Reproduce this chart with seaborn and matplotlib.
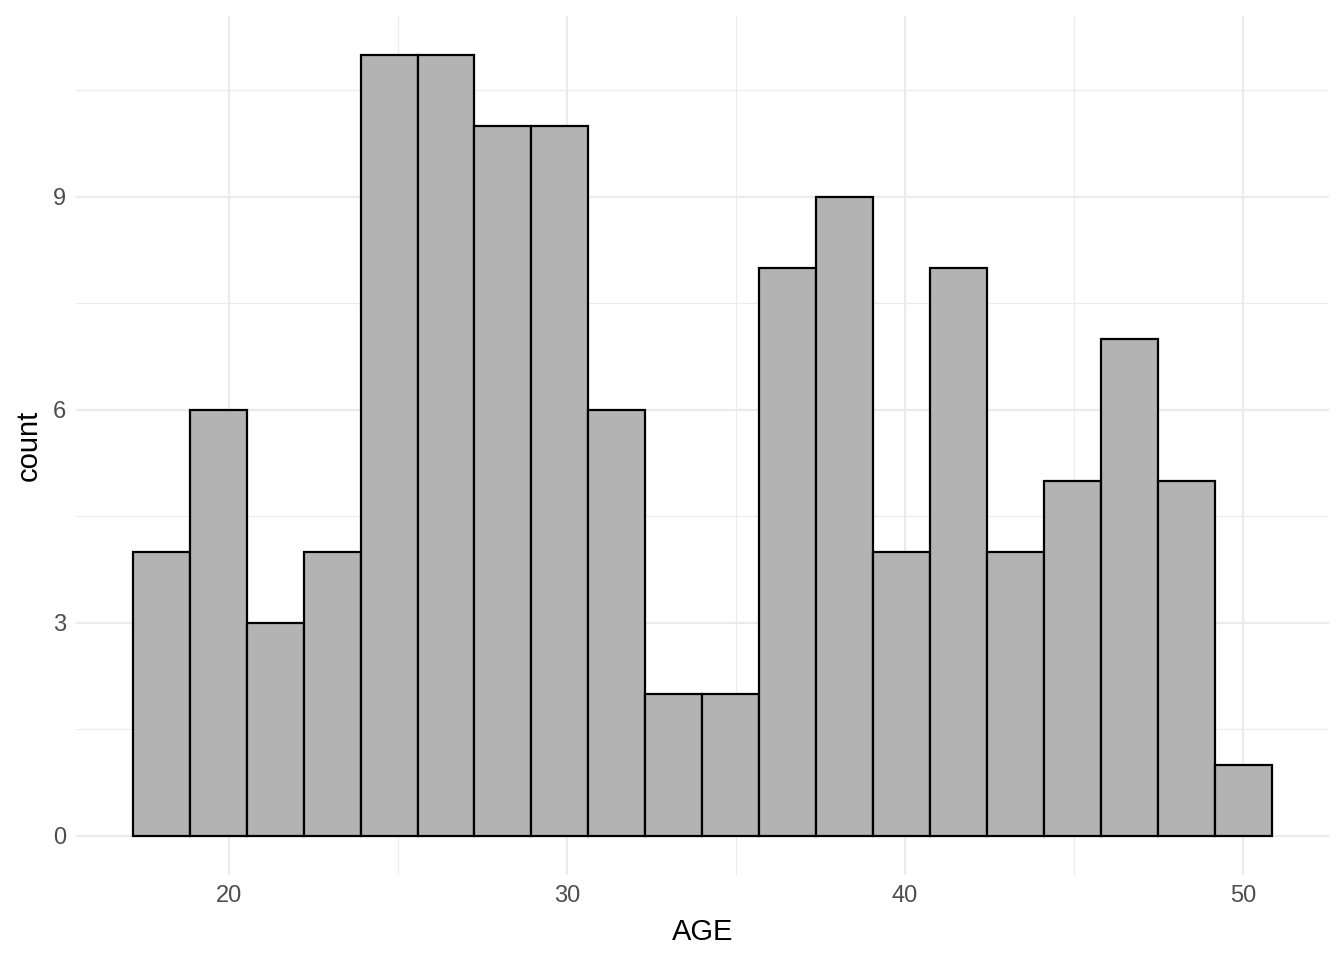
import numpy as np
import pandas as pd
import matplotlib.pyplot as plt
import seaborn as sns

# bin centers (ages) and counts
age_min = 18
age_max = 50
n_bins = 20
counts = [4, 6, 3, 4, 11, 11, 10, 10, 6, 2, 2, 8, 9, 4, 8, 4, 5, 7, 5, 1]

width = (age_max - age_min) / (n_bins - 1)
centers = [age_min + i * width for i in range(n_bins)]
edges = [c - width / 2 for c in centers] + [centers[-1] + width / 2]
df = pd.DataFrame({"AGE": centers, "n": counts})

sns.set_theme(style="whitegrid")
plt.rcParams['font.family'] = ['Liberation Sans', 'DejaVu Sans']

fig = plt.figure(figsize=(13.44, 9.6), dpi=100)
ax = fig.add_axes([0.0565, 0.0885, 0.932, 0.895])

sns.histplot(data=df, x="AGE", weights="n", bins=edges, ax=ax,
             color="#B3B3B3", alpha=1, edgecolor="black", linewidth=1.6)

lo, hi = edges[0], edges[-1]
pad = (hi - lo) * 0.05
ax.set_xlim(lo - pad, hi + pad)
ax.set_ylim(-0.55, 11.55)

ax.set_xticks([20, 30, 40, 50])
ax.set_xticks([25, 35, 45], minor=True)
ax.set_yticks([0, 3, 6, 9])
ax.set_yticks([1.5, 4.5, 7.5, 10.5], minor=True)
ax.grid(which="major", color="#EBEBEB", linewidth=1.6)
ax.grid(which="minor", color="#EBEBEB", linewidth=0.8)
ax.set_axisbelow(True)
for s in ax.spines.values():
    s.set_visible(False)
ax.tick_params(which="both", length=0, labelsize=17, labelcolor="#4D4D4D", pad=7)
ax.set_xlabel("AGE", fontsize=21, color="black", labelpad=8)
ax.set_ylabel("count", fontsize=21, color="black", labelpad=7)
ax.set_facecolor("white")

fig.savefig("out.png", dpi=100, facecolor="white")
